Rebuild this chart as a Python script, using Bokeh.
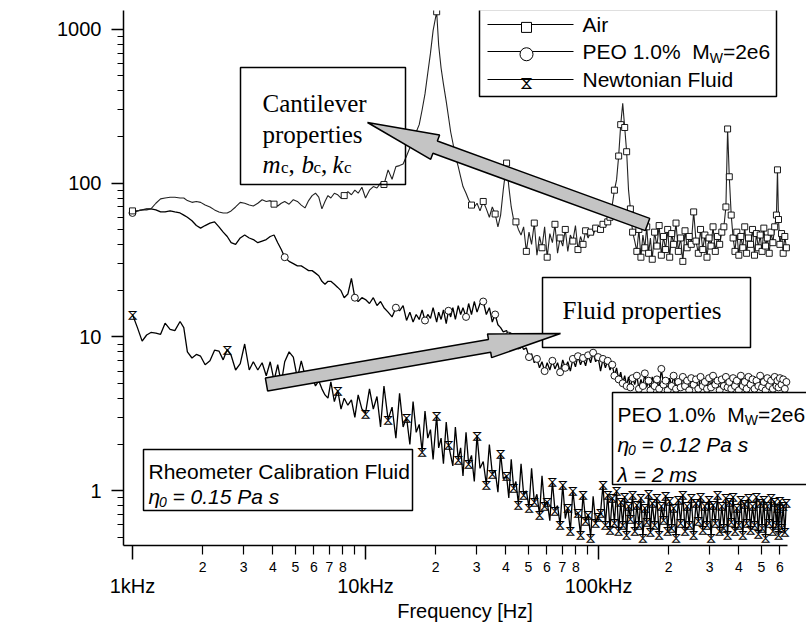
import numpy as np
from math import pi, hypot, log10
from bokeh.plotting import figure
from bokeh.models import (ColumnDataSource, FixedTicker, Label, BoxAnnotation,
                          PolyAnnotation, Arrow, CDSView, IndexFilter, LogAxis)
from bokeh.core.properties import value
from bokeh.embed import file_html
from bokeh.resources import INLINE

# ---------------- data ----------------
freq_khz = [
    1.00, 1.05, 1.10, 1.15, 1.20, 1.26, 1.32, 1.38, 1.45, 1.52,
    1.60, 1.66, 1.72, 1.80, 1.88, 1.96, 2.05, 2.15, 2.25, 2.35,
    2.45, 2.55, 2.65, 2.77, 2.90, 3.03, 3.17, 3.30, 3.45, 3.60,
    3.75, 3.90, 4.05, 4.20, 4.35, 4.50, 4.70, 4.90, 5.10, 5.30,
    5.50, 5.70, 5.90, 6.10, 6.30, 6.50, 6.70, 6.90, 7.10, 7.35,
    7.60, 7.85, 8.10, 8.40, 8.70, 9.00, 9.30, 9.65,
    10.0, 10.4, 10.8, 11.2, 11.6, 12.0, 12.5, 13.0, 13.5, 14.0,
    14.5, 15.0, 15.5, 16.0, 16.5, 17.0, 17.5, 18.0, 18.5, 19.0,
    19.5, 20.2, 20.6, 21.1, 21.6, 22.2, 22.7, 23.2, 23.7, 24.3,
    25.0, 25.6, 26.2, 27.0, 27.7, 28.5, 29.3, 30.1, 31.0, 32.0,
    33.0, 34.0, 35.0, 36.0, 37.0, 38.0, 39.0, 40.3, 41.2, 42.2,
    43.2, 44.2, 45.3, 46.5, 47.7, 49.0, 50.3, 51.6, 53.0, 54.4,
    55.8, 57.2, 58.7, 60.2, 61.8, 63.4, 65.0, 66.7, 68.4, 70.2,
    72.0, 73.8, 75.7, 77.6, 79.6, 81.6, 83.7, 85.8, 88.0, 90.2,
    92.5, 94.8, 97.2, 99.6,
    102, 104.5, 107, 109.5, 112, 114.5, 117, 119.5, 122, 124.5,
    127, 129.5, 132, 134.5, 137, 140, 143, 146, 149, 152,
    155, 158, 161, 164, 167, 170, 174, 178, 182, 186,
    190, 194, 198, 202, 206, 210, 215, 220, 225, 230,
    235, 240, 245, 250, 256, 262, 268, 274, 280, 286,
    292, 298, 304, 310, 317, 324, 331, 338, 345, 352,
    358, 364, 371, 378, 385, 392, 400, 408, 416, 424,
    432, 440, 449, 458, 467, 476, 485, 494, 503, 512,
    521, 530, 540, 550, 560, 570, 580, 586, 592, 600,
    610, 620, 630, 640,
]

air = [
    66, 66, 67, 67, 68, 74, 79, 80, 81, 81,
    80, 80, 77, 75, 76, 75, 72, 70, 67, 65,
    64, 64, 66, 70, 75, 74, 72, 71, 74, 78,
    76, 77, 73, 71, 74, 76, 73, 78, 76, 72,
    69, 77, 83, 86, 81, 68, 76, 83, 80, 86,
    84, 80, 83, 88, 84, 90, 86, 94,
    80, 90, 95, 93, 100, 98, 122, 106, 128, 130,
    133, 150, 170, 180, 215, 240, 300, 380, 520, 700,
    980, 1300, 790, 560, 440, 340, 270, 215, 183, 150,
    128, 110, 95, 86, 78, 72, 70, 74, 66, 76,
    68, 60, 70, 63, 52, 62, 90, 135, 95, 70,
    58, 56, 50, 46, 52, 36, 48, 40, 55, 34,
    45, 38, 52, 33, 47, 41, 54, 35, 44, 39,
    50, 36, 46, 42, 53, 37, 45, 40, 49, 44,
    48, 46, 51, 49,
    50, 54, 52, 56, 60, 72, 90, 105, 150, 240,
    330, 230, 160, 90, 68, 48, 42, 36, 50, 33,
    46, 38, 52, 35, 44, 32, 48, 39, 53, 34,
    45, 37, 50, 33, 47, 40, 55, 36, 44, 31,
    49, 38, 45, 40, 65, 42, 35, 50, 37, 46,
    33, 44, 39, 52, 36, 45, 40, 48, 52, 70,
    225, 110, 62, 44, 36, 48, 34, 45, 38, 52,
    35, 44, 40, 50, 34, 47, 38, 46, 36, 51,
    39, 44, 35, 48, 41, 52, 62, 122, 58, 40,
    47, 35, 45, 38,
]

peo = [
    64, 66, 67, 68, 68, 67, 65, 65, 66, 65,
    64, 62, 60, 57, 53, 51, 53, 55, 56, 52,
    48, 45, 41, 40, 44, 46, 44, 43, 41, 42,
    43, 45, 46, 41, 37, 33, 31, 30, 29, 29,
    28, 27, 27, 26, 25, 23, 22, 23, 23, 22,
    21, 20, 18, 19, 24, 18, 17, 18,
    17.5, 16.5, 18, 16, 17, 15.5, 14.5, 13.5, 15.5, 14.8,
    16, 12.8, 14.5, 12.5, 14, 13, 15, 12.8, 14, 13.2,
    15.5, 12.5, 14.5, 13, 15, 12.2, 14.8, 13.5, 15.5, 13,
    16, 14, 15.5, 13.5, 16.5, 14, 17, 14.5, 16.5, 17,
    14, 15.5, 12.5, 14, 12, 11.5, 10.8, 11, 10.2, 10.5,
    9.5, 9.8, 8.8, 9, 8.3, 8.5, 7.4, 7.8, 6.8, 7.2,
    6.3, 6.9, 6.0, 6.8, 6.1, 7.0, 6.2, 6.8, 5.9, 7.1,
    6.3, 6.9, 6.0, 7.2, 6.4, 7.5, 6.6, 7.3, 6.5, 7.6,
    6.8, 7.9, 6.9, 7.4,
    6.0, 7.2, 6.3, 7.0, 6.1, 6.6, 5.6, 6.3, 5.3, 5.9,
    5.0, 5.6, 4.8, 5.5, 4.7, 5.4, 4.9, 5.6, 4.6, 5.3,
    4.8, 5.8, 4.7, 5.2, 4.5, 5.5, 4.8, 5.3, 4.6, 6.2,
    4.9, 5.2, 4.5, 5.4, 4.8, 5.6, 4.6, 5.1, 4.7, 5.5,
    4.8, 5.2, 4.5, 5.4, 4.9, 5.3, 4.6, 5.5, 4.8, 5.1,
    4.6, 5.4, 4.7, 5.6, 4.9, 5.2, 4.5, 5.3, 4.8, 5.5,
    4.7, 5.1, 4.6, 5.4, 4.8, 5.2, 4.5, 5.6, 4.8, 5.1,
    4.6, 5.5, 4.9, 5.3, 4.6, 5.2, 4.8, 5.6, 4.7, 5.1,
    4.5, 5.4, 4.8, 5.2, 4.6, 5.5, 4.8, 5.2, 4.7, 5.4,
    4.9, 5.3, 4.6, 5.1,
]

newtonian = [
    14, 11.5, 9.4, 10.3, 10.7, 10.6, 10.4, 12.3, 11.2, 11.0,
    12.6, 11.5, 8.0, 7.3, 7.7, 7.5, 6.6, 7.0, 8.2, 8.1,
    7.1, 8.3, 7.6, 6.1, 6.7, 9.0, 6.1, 6.9, 6.1, 6.8,
    5.6, 6.9, 5.2, 6.6, 5.0, 6.9, 8.0, 7.4, 5.4, 7.0,
    5.6, 5.0, 5.5, 4.8, 5.2, 4.6, 4.2, 4.0, 5.1, 3.8,
    4.5, 3.4, 4.0, 3.6, 3.9, 3.0, 4.2, 3.4,
    3.2, 4.6, 3.4, 4.1, 2.6, 4.8, 2.9, 3.5, 2.2, 4.3,
    2.6, 3.0, 2.0, 3.8, 2.4, 2.7, 1.8, 3.3, 2.2, 2.5,
    1.6, 3.1, 1.9, 2.2, 1.5, 2.8, 2.0, 1.7, 1.45, 2.6,
    1.6, 1.9, 1.25, 2.4, 1.5, 1.7, 1.15, 2.3, 1.4, 1.55,
    1.1, 2.0, 1.3, 1.35, 0.98, 1.75, 1.2, 1.25, 0.9, 1.6,
    1.05, 1.15, 0.82, 1.5, 0.95, 1.0, 0.78, 1.4, 0.85, 0.95,
    0.7, 1.25, 0.8, 0.85, 0.64, 1.15, 0.75, 0.8, 0.6, 1.1,
    0.66, 0.78, 0.55, 1.0, 0.7, 0.72, 0.52, 0.95, 0.64, 0.7,
    0.5, 0.92, 0.62, 0.68,
    0.72, 1.1, 0.6, 0.95, 0.56, 0.9, 0.62, 1.0, 0.55, 0.85,
    0.6, 0.92, 0.52, 0.8, 0.66, 0.95, 0.55, 0.82, 0.6, 0.9,
    0.5, 0.78, 0.63, 0.96, 0.54, 0.84, 0.6, 0.9, 0.52, 0.8,
    0.65, 0.93, 0.55, 0.86, 0.58, 0.78, 0.5, 0.88, 0.62, 0.95,
    0.55, 0.8, 0.6, 0.9, 0.52, 0.84, 0.64, 0.92, 0.56, 0.8,
    0.6, 0.88, 0.5, 0.82, 0.62, 0.94, 0.55, 0.8, 0.58, 0.9,
    0.52, 0.85, 0.63, 0.92, 0.55, 0.78, 0.6, 0.88, 0.52, 0.83,
    0.62, 0.9, 0.56, 0.8, 0.6, 0.92, 0.53, 0.84, 0.58, 0.88,
    0.5, 0.8, 0.62, 0.9, 0.55, 0.85, 0.6, 0.78, 0.52, 0.86,
    0.58, 0.8, 0.54, 0.84,
]

series_names = ["Air", "PEO 1.0%", "Newtonian Fluid"]

x_major_ticks = [1e3, 1e4, 1e5]
x_major_labels = ["1kHz", "10kHz", "100kHz"]
x_minor_labelled = [2e3, 3e3, 4e3, 5e3, 6e3, 7e3, 8e3,
                    2e4, 3e4, 4e4, 5e4, 6e4, 7e4, 8e4,
                    2e5, 3e5, 4e5, 5e5, 6e5]
x_minor_plain = [9e3, 9e4]
y_major_ticks = [1, 10, 100, 1000]
y_major_labels = ["1", "10", "100", "1000"]
y_minor_ticks = [0.5, 0.6, 0.7, 0.8, 0.9,
                 2, 3, 4, 5, 6, 7, 8, 9,
                 20, 30, 40, 50, 60, 70, 80, 90,
                 200, 300, 400, 500, 600, 700, 800, 900]

# ---------------- layout ----------------
XMIN, XAXIS_END = 915.0, 647000.0       # visible extent of the frequency axis
YMIN, YMAX = 0.441, 1325.0
W, H = 806, 624
FL, FT, FR = 123, 10, 0
FB = H - 548
FW, FH = W - FL - FR, H - FT - FB
PX_PER_DEC = 664.0 / log10(XAXIS_END / XMIN)
XMAX = XMIN * 10 ** (FW / PX_PER_DEC)   # frame runs to the right edge
PX0, PY0 = FL, FT + FH                  # canvas coords of frame bottom-left

def sx(X):  # canvas x -> frame screen x
    return X - PX0

def sy(Y):  # canvas y -> frame screen y (upwards)
    return PY0 - Y

def data_x(X):
    return XMIN * (XMAX / XMIN) ** ((X - PX0) / FW)

def data_y(Y):
    return YMIN * (YMAX / YMIN) ** ((PY0 - Y) / FH)

SANS = "Liberation Sans"
SERIF = "Liberation Serif"
HOURGLASS_FONT = "Noto Sans Math"

p = figure(width=W, height=H, x_axis_type="log", y_axis_type="log",
           x_range=(XMIN, XMAX), y_range=(YMIN, YMAX),
           output_backend="svg", toolbar_location=None,
           min_border_left=FL, min_border_right=FR,
           min_border_top=FT, min_border_bottom=FB)
p.outline_line_color = None
p.xgrid.grid_line_color = None
p.ygrid.grid_line_color = None
p.background_fill_color = "white"

# frequency axis, first row: the 2..8 sub-decade ticks carry small labels,
# the decade ticks are drawn longer
xa = p.xaxis[0]
xa.ticker = FixedTicker(ticks=x_minor_labelled + x_minor_plain, minor_ticks=x_major_ticks)
xa.major_label_overrides = {**{t: f"{t / 10 ** np.floor(np.log10(t)):.0f}" for t in x_minor_labelled},
                            **{t: "" for t in x_minor_plain}}
xa.bounds = (XMIN, XAXIS_END)
xa.major_tick_out, xa.major_tick_in = 9, 0
xa.minor_tick_out, xa.minor_tick_in = 14, 0
xa.axis_line_width = 1.5
xa.major_tick_line_width = 1.2
xa.minor_tick_line_width = 1.5
xa.axis_line_color = xa.major_tick_line_color = xa.minor_tick_line_color = "black"
xa.major_label_text_font = SANS
xa.major_label_text_font_size = "14px"
xa.major_label_text_color = "black"
xa.major_label_standoff = 2

# frequency axis, second row: decade labels and the title
xa2 = LogAxis(ticker=FixedTicker(ticks=x_major_ticks, minor_ticks=[]),
              major_label_overrides=dict(zip(x_major_ticks, x_major_labels)),
              axis_line_color=None, major_tick_line_color=None, minor_tick_line_color=None,
              major_tick_out=0, major_tick_in=0, minor_tick_out=0, minor_tick_in=0,
              major_label_standoff=0,
              major_label_text_font=SANS, major_label_text_font_size="20px",
              major_label_text_color="black",
              axis_label="Frequency [Hz]", axis_label_standoff=0,
              axis_label_text_font=SANS, axis_label_text_font_size="20px",
              axis_label_text_font_style="normal", axis_label_text_color="black")
p.add_layout(xa2, "below")

ya = p.yaxis[0]
ya.ticker = FixedTicker(ticks=y_major_ticks, minor_ticks=y_minor_ticks)
ya.major_label_overrides = dict(zip(y_major_ticks, y_major_labels))
ya.major_tick_out, ya.major_tick_in = 12, 0
ya.minor_tick_out, ya.minor_tick_in = 6, 0
ya.axis_line_width = 1.5
ya.major_tick_line_width = 1.5
ya.minor_tick_line_width = 1.2
ya.axis_line_color = ya.major_tick_line_color = ya.minor_tick_line_color = "black"
ya.major_label_text_font = SANS
ya.major_label_text_font_size = "20px"
ya.major_label_text_color = "black"
ya.major_label_standoff = 10

# y axis title
p.add_layout(Label(x=sx(21), y=sy(307), x_units="screen", y_units="screen",
                   text="Magnitude of Transfer Function [m/N]", angle=pi / 2,
                   text_align="center", text_baseline="middle",
                   text_font=SANS, text_font_size="25px", text_color="black"))

# ---------------- data glyphs ----------------
freq_hz = np.array(freq_khz) * 1000.0
src = ColumnDataSource(dict(f=freq_hz, air=air, peo=peo, newt=newtonian))

def marker_indices(step_hz):
    bins = np.floor(freq_hz / step_hz)
    keep = np.r_[True, bins[1:] != bins[:-1]]
    return [int(i) for i in np.nonzero(keep)[0]]

p.line("f", "newt", source=src, line_color="black", line_width=1.3)
p.text(x="f", y="newt", text=value("\u29d6"), source=src,
       view=CDSView(filter=IndexFilter(marker_indices(2500.0))),
       text_align="center", text_baseline="middle", text_font=value(HOURGLASS_FONT),
       text_font_size="14px", text_color="black")

p.line("f", "peo", source=src, line_color="black", line_width=1.3)
p.scatter("f", "peo", source=src, view=CDSView(filter=IndexFilter(marker_indices(4500.0))),
          marker="circle", size=7, fill_color="white", line_color="black", line_width=0.9)

p.line("f", "air", source=src, line_color="#222222", line_width=1.1)
p.scatter("f", "air", source=src, view=CDSView(filter=IndexFilter(marker_indices(4000.0))),
          marker="square", size=6, fill_color="white", line_color="black", line_width=0.9)

# ---------------- legend (drawn by hand, for the subscript) ----------------
p.add_layout(BoxAnnotation(left=sx(479), right=sx(776), top=sy(12), bottom=sy(99),
                           left_units="screen", right_units="screen",
                           top_units="screen", bottom_units="screen",
                           fill_color="white", fill_alpha=1.0, line_color="black",
                           line_alpha=1.0, line_width=1.5, level="underlay"))
rows = [27, 54, 82]
for r in rows:
    p.add_layout(Arrow(end=None, x_start=sx(487), y_start=sy(r), x_end=sx(573), y_end=sy(r),
                       start_units="screen", end_units="screen",
                       line_color="black", line_width=1.2, level="underlay"))
p.scatter([data_x(526)], [data_y(rows[0])], marker="square", size=10,
          fill_color="white", line_color="black", line_width=1)
p.scatter([data_x(526)], [data_y(rows[1])], marker="circle", size=13,
          fill_color="white", line_color="black", line_width=1)
p.text([data_x(526)], [data_y(rows[2])], text=value("\u29d6"), text_align="center",
       text_baseline="middle", text_font=value(HOURGLASS_FONT), text_font_size="17px",
       text_color="black")

def lab(text, X, Y, size="21px", font=SANS, style="normal", baseline="alphabetic"):
    p.add_layout(Label(x=sx(X), y=sy(Y), x_units="screen", y_units="screen", text=text,
                       text_font=font, text_font_size=size, text_font_style=style,
                       text_color="black", text_baseline=baseline, text_align="left"))

lab(series_names[0], 582, rows[0], baseline="middle")
lab(series_names[1], 582, rows[1], baseline="middle")
lab("M", 691.7, rows[1], baseline="middle")
lab("W", 709.2, rows[1] + 6, size="14px", baseline="middle")
lab("=2e6", 722.4, rows[1], baseline="middle")
lab(series_names[2], 582, rows[2], baseline="middle")

# ---------------- annotation boxes ----------------
def box(x0, y0, x1, y1, filled=True):
    p.add_layout(BoxAnnotation(left=sx(x0), right=sx(x1), top=sy(y0), bottom=sy(y1),
                               left_units="screen", right_units="screen",
                               top_units="screen", bottom_units="screen",
                               fill_color="white", fill_alpha=1.0 if filled else 0.0,
                               line_color="black", line_alpha=1.0, line_width=1.5))

box(240, 70, 405, 187, filled=False)     # cantilever
box(542, 280, 750, 350)                  # fluid properties
box(143, 452, 412, 513)                  # rheometer fluid
box(612, 395, 840, 487)                  # PEO

# ---------------- block arrows ----------------
def block_arrow(tail, tip, shaft_half, head_half, head_len):
    tx, ty = tail
    hx, hy = tip
    L = hypot(hx - tx, hy - ty)
    ux, uy = (hx - tx) / L, (hy - ty) / L
    nx, ny = -uy, ux
    bx, by = hx - ux * head_len, hy - uy * head_len
    pts = [(tx + nx * shaft_half, ty + ny * shaft_half),
           (bx + nx * shaft_half, by + ny * shaft_half),
           (bx + nx * head_half, by + ny * head_half),
           (hx, hy),
           (bx - nx * head_half, by - ny * head_half),
           (bx - nx * shaft_half, by - ny * shaft_half),
           (tx - nx * shaft_half, ty - ny * shaft_half)]
    p.add_layout(PolyAnnotation(xs=[sx(a) for a, _ in pts], ys=[sy(b) for _, b in pts],
                                xs_units="screen", ys_units="screen",
                                fill_color="#c4c4c4", fill_alpha=1.0,
                                line_color="black", line_alpha=1.0, line_width=1.5))

block_arrow((647, 227), (367, 125), 6.5, 13, 72)
block_arrow((266, 387), (560, 336), 6.5, 12, 72)

# ---------------- box texts ----------------
lab("Cantilever", 262, 106, size="25px", font=SERIF)
lab("properties", 262, 137, size="25px", font=SERIF)
lab("m", 262, 167, size="25px", font=SERIF, style="italic")
lab("c", 280.5, 170, size="17px", font=SERIF)
lab(",", 288, 167, size="25px", font=SERIF)
lab("b", 301, 167, size="25px", font=SERIF, style="italic")
lab("c", 313, 170, size="17px", font=SERIF)
lab(",", 320.5, 167, size="25px", font=SERIF)
lab("k", 332, 167, size="25px", font=SERIF, style="italic")
lab("c", 343.5, 170, size="17px", font=SERIF)

lab("Fluid properties", 562, 313, size="25px", font=SERIF)

lab("Rheometer Calibration Fluid", 148, 474)
lab("\u03b7", 148, 499, style="italic")
lab("0", 158.5, 504, size="14px", style="italic")
lab("= 0.15 Pa s", 172, 499, style="italic")

lab("PEO 1.0%", 617, 417)
lab("M", 726.7, 417)
lab("W", 744.2, 422, size="14px")
lab("=2e6", 757.4, 417)
lab("\u03b7", 617, 447, style="italic")
lab("0", 627.5, 452, size="14px", style="italic")
lab("= 0.12 Pa s", 641, 447, style="italic")
lab("\u03bb = 2 ms", 617, 477, style="italic")

open("out.html", "w").write(file_html(p, INLINE))
